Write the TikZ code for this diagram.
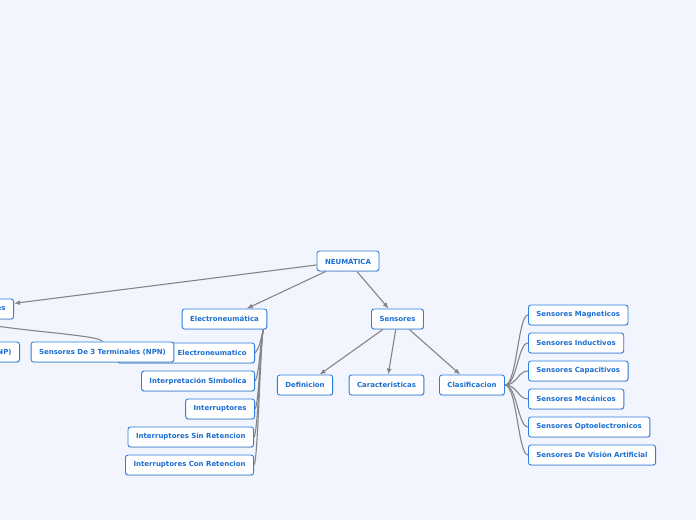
\documentclass[tikz,border=0pt]{standalone}
\usepackage[x11names, svgnames, rgb]{xcolor}
\usepackage{fontspec}
\newfontfamily\mapfont{DejaVu Sans}
\usepackage{tikz}
\usetikzlibrary{arrows.meta,shapes,shadows}

\definecolor{MapBack}{HTML}{F2F5FE}
\definecolor{MapLine}{HTML}{2C7EDF}
\definecolor{MapText}{HTML}{1B6ED2}
\definecolor{MapLink}{HTML}{858585}

\begin{document}
\begin{tikzpicture}[>={Latex[length=6bp,width=5bp]}, line join=bevel,
  topic/.style={draw=MapLine, fill=white, line width=0.9bp,
    rounded corners=2.5bp, minimum height=20bp, inner xsep=8bp,
    text=MapText, font=\mapfont\bfseries\fontsize{7}{8}\selectfont,
    drop shadow={shadow xshift=0.4bp, shadow yshift=-0.9bp, opacity=0.25}},
  link/.style={->, draw=MapLink, line width=1.1bp},
  branch/.style={draw=MapLink, line width=1.1bp},
]
\clip (0bp,0bp) rectangle (696bp,520bp);
\fill[MapBack] (0bp,0bp) rectangle (696bp,520bp);
%%
\node (neu) at (348bp,259bp)
  [topic] {NEUMÁTICA};
\node (es) at (14bp,211bp)
  [topic, anchor=east, minimum width=88bp, text width=72bp, align=right] {es};
\node (np) at (20bp,168bp)
  [topic, anchor=east, minimum width=60bp, text width=44bp, align=right] {NP)};
%%
\node (elec) at (224.5bp,201bp)
  [topic] {Electroneumática};
\node (elec-simb) at (255bp,167bp)
  [topic, anchor=east, minimum width=137bp, text width=121bp, align=right] {Electroneumatico};
\node (elec-interp) at (255bp,139bp)
  [topic, anchor=east] {Interpretación Simbolica};
\node (elec-int) at (255bp,111bp)
  [topic, anchor=east] {Interruptores};
\node (elec-sin) at (254bp,83bp)
  [topic, anchor=east] {Interruptores Sin Retencion};
\node (elec-con) at (254bp,55bp)
  [topic, anchor=east] {Interruptores Con Retencion};
\node (npn) at (102.5bp,168bp)
  [topic] {Sensores De 3 Terminales (NPN)};
%%
\node (sen) at (397.5bp,201bp)
  [topic] {Sensores};
\node (sen-def) at (305bp,135bp)
  [topic] {Definicion};
\node (sen-car) at (386.5bp,135bp)
  [topic] {Caracteristicas};
\node (sen-cla) at (472bp,135bp)
  [topic] {Clasificacion};
%%
\node (cla-mag) at (528bp,205bp)
  [topic, anchor=west] {Sensores Magneticos};
\node (cla-ind) at (528bp,177bp)
  [topic, anchor=west] {Sensores Inductivos};
\node (cla-cap) at (528bp,149bp)
  [topic, anchor=west] {Sensores Capacitivos};
\node (cla-mec) at (528bp,121bp)
  [topic, anchor=west] {Sensores Mecánicos};
\node (cla-opt) at (528bp,93bp)
  [topic, anchor=west] {Sensores Optoelectronicos};
\node (cla-vis) at (528bp,65bp)
  [topic, anchor=west] {Sensores De Visión Artificial};

\draw [link] (neu) -- (es);
\draw [link] (neu) -- (elec);
\draw [link] (neu) -- (sen);
\draw [link] (sen) -- (sen-def);
\draw [link] (sen) -- (sen-car);
\draw [link] (sen) -- (sen-cla);

\draw [branch]
  (es.south) .. controls (-10bp,190bp) and (100bp,186bp)
  .. (npn.north);

\foreach \k in {elec-simb,elec-interp,elec-int,elec-sin,elec-con}
  \draw [branch]
    ([xshift=-4bp]elec.south east) .. controls +(-3bp,-12bp) and +(4bp,4bp)
    .. (\k.east);

\foreach \k in {cla-mag,cla-ind,cla-cap,cla-mec,cla-opt,cla-vis}
  \draw [branch]
    (sen-cla.east) .. controls +(12bp,0bp) and +(-10bp,0bp)
    .. (\k.west);
\end{tikzpicture}
\end{document}
